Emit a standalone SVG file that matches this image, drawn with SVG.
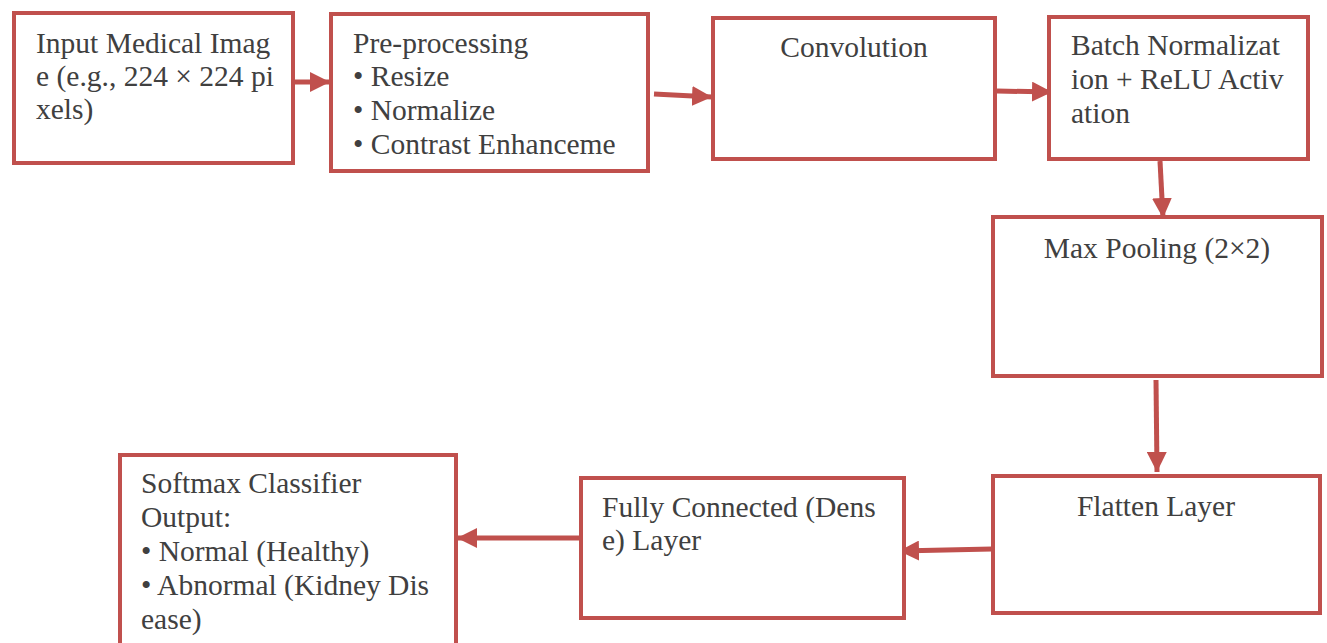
<svg xmlns="http://www.w3.org/2000/svg" width="1327" height="643" viewBox="0 0 1327 643">
<defs>
<style>
.box{fill:#fff;stroke:#C0504D;stroke-width:4}
.t{font-family:"Liberation Serif","Times New Roman",serif;font-size:29.5px;fill:#404040}
.c{stroke:#C0504D;stroke-width:5;fill:none}
</style>
<marker id="ah" markerWidth="4" markerHeight="4" refX="4" refY="2" orient="auto" markerUnits="strokeWidth">
<path d="M0,0 L4,2 L0,4 z" fill="#C0504D"/>
</marker>
</defs>
<rect width="1327" height="643" fill="#fff"/>
<g id="connectors">
<line class="c" x1="295" y1="82" x2="330" y2="82" marker-end="url(#ah)"/>
<line class="c" x1="654" y1="94" x2="712" y2="97" marker-end="url(#ah)"/>
<line class="c" x1="997" y1="91" x2="1052" y2="92" marker-end="url(#ah)"/>
<line class="c" x1="1160" y1="161" x2="1163" y2="218" marker-end="url(#ah)"/>
<line class="c" x1="1156" y1="380" x2="1157" y2="472" marker-end="url(#ah)"/>
<line class="c" x1="992" y1="549" x2="899" y2="551" marker-end="url(#ah)"/>
<line class="c" x1="582" y1="538" x2="457" y2="538" marker-end="url(#ah)"/>
</g>
<g id="input">
<rect class="box" x="14" y="13" width="279" height="150"/>
<text class="t" x="36" y="53">Input Medical Imag</text>
<text class="t" x="36" y="86">e (e.g., 224 × 224 pi</text>
<text class="t" x="36" y="119">xels)</text>
</g>
<g id="preprocessing">
<rect class="box" x="331" y="14" width="317" height="157"/>
<text class="t" x="353" y="53">Pre-processing</text>
<text class="t" x="353" y="86">• Resize</text>
<text class="t" x="353" y="120">• Normalize</text>
<text class="t" x="353" y="154">• Contrast Enhanceme</text>
</g>
<g id="convolution">
<rect class="box" x="713" y="18" width="282" height="141"/>
<text class="t" x="854" y="57" text-anchor="middle">Convolution</text>
</g>
<g id="batchnorm">
<rect class="box" x="1049" y="17" width="259" height="142"/>
<text class="t" x="1071" y="55">Batch Normalizat</text>
<text class="t" x="1071" y="89">ion + ReLU Activ</text>
<text class="t" x="1071" y="123">ation</text>
</g>
<g id="maxpool">
<rect class="box" x="993" y="217" width="329" height="159"/>
<text class="t" x="1157" y="258" text-anchor="middle">Max Pooling (2×2)</text>
</g>
<g id="flatten">
<rect class="box" x="993" y="476" width="327" height="137"/>
<text class="t" x="1156" y="516" text-anchor="middle">Flatten Layer</text>
</g>
<g id="dense">
<rect class="box" x="581" y="478" width="323" height="140"/>
<text class="t" x="602" y="517">Fully Connected (Dens</text>
<text class="t" x="602" y="550">e) Layer</text>
</g>
<g id="softmax">
<rect class="box" x="120" y="455" width="336" height="200"/>
<text class="t" x="141" y="493">Softmax Classifier</text>
<text class="t" x="141" y="527">Output:</text>
<text class="t" x="141" y="561">• Normal (Healthy)</text>
<text class="t" x="141" y="595">• Abnormal (Kidney Dis</text>
<text class="t" x="141" y="629">ease)</text>
</g>
</svg>
